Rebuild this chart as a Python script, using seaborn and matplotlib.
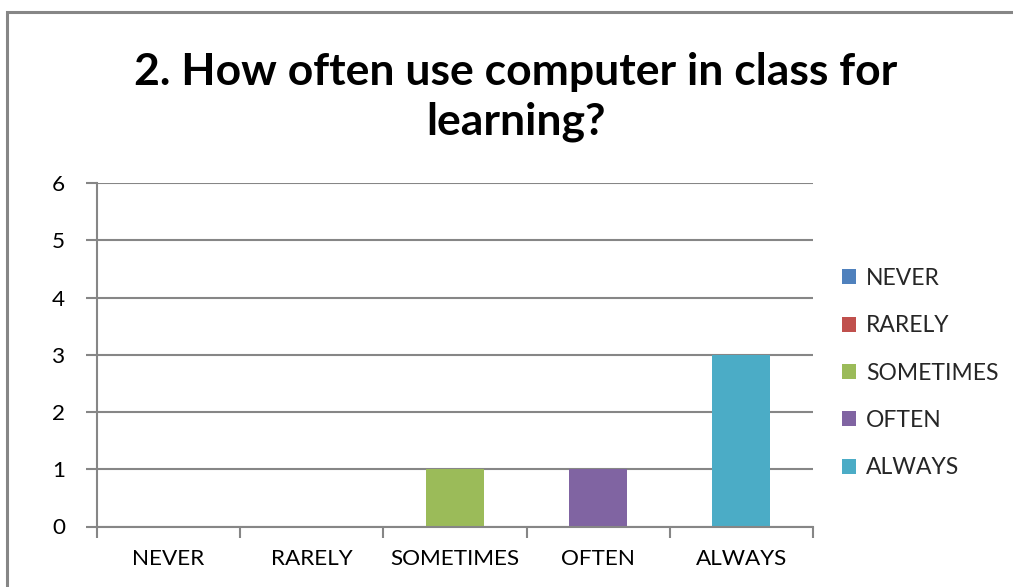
import matplotlib
matplotlib.use("Agg")
import matplotlib.pyplot as plt
from matplotlib.patches import Patch, Rectangle
import seaborn as sns
import pandas as pd

# Survey answers: how often a computer is used in class for learning
categories = ["NEVER", "RARELY", "SOMETIMES", "OFTEN", "ALWAYS"]
counts = [0, 0, 1, 1, 3]
colors = ["#4F81BD", "#C0504D", "#9BBB59", "#8064A2", "#4BACC6"]
y_ticks = [0, 1, 2, 3, 4, 5, 6]
title = "2. How often use computer in class for\nlearning?"

sns.set_theme(style="white")
plt.rcParams["font.family"] = ["Lato", "DejaVu Sans"]

grid_gray = "#868686"

df = pd.DataFrame({"answer": categories, "count": counts})
palette = dict(zip(categories, colors))

W, H = 1013, 587
fig = plt.figure(figsize=(W / 100, H / 100), dpi=100)
ax = fig.add_axes([97 / W, (H - 526.5) / H, (813 - 97) / W, (526.5 - 183) / H])

sns.barplot(data=df, x="answer", y="count", hue="answer", palette=palette,
            order=categories, hue_order=categories, dodge=False, width=0.405,
            saturation=1, legend=False, linewidth=0, ax=ax, zorder=2)

ax.set_ylim(0, 6)
ax.set_xlim(-0.5, len(categories) - 0.5)
ax.set_yticks(y_ticks)
ax.yaxis.grid(True, color=grid_gray, linewidth=1.5, zorder=1)
ax.set_axisbelow(True)
ax.set_xlabel("")
ax.set_ylabel("")

# category boundary ticks on the x axis
ax.set_xticks(range(len(categories)))
ax.set_xticklabels(categories)
ax.set_xticks([i - 0.5 for i in range(len(categories) + 1)], minor=True)
ax.tick_params(axis="x", which="major", length=0, pad=16, labelsize=16.2, colors="black")
ax.tick_params(axis="x", which="minor", length=8, width=1.5, color=grid_gray, direction="out")
ax.tick_params(axis="y", length=8, width=1.5, color=grid_gray, direction="out",
               pad=15, labelsize=16.2, labelcolor="black")
ax.tick_params(left=True, bottom=True, which="both")

for side in ["top", "right"]:
    ax.spines[side].set_visible(False)
for side in ["left", "bottom"]:
    ax.spines[side].set_color(grid_gray)
    ax.spines[side].set_linewidth(1.5)

# title
fig.text(516 / W, 1 - 97 / H, title, ha="center", va="center", fontsize=32,
         fontweight="bold", linespacing=1.26, color="black")

# legend
handles = [Patch(facecolor=c, edgecolor="none", label=l) for l, c in zip(categories, colors)]
fig.legend(handles=handles, loc="center left", bbox_to_anchor=(842 / W, 1 - 373 / H),
           frameon=False, fontsize=16.5, handlelength=0.62, handleheight=0.62,
           handletextpad=0.42, labelspacing=1.15, borderpad=0, borderaxespad=0)

# chart border
fig.patches.append(Rectangle((7 / W, -0.1), 1.2, 1 - 12 / H + 0.1, transform=fig.transFigure,
                             fill=False, edgecolor=grid_gray, linewidth=2.2))

fig.savefig("out.png", dpi=100, facecolor="white")
